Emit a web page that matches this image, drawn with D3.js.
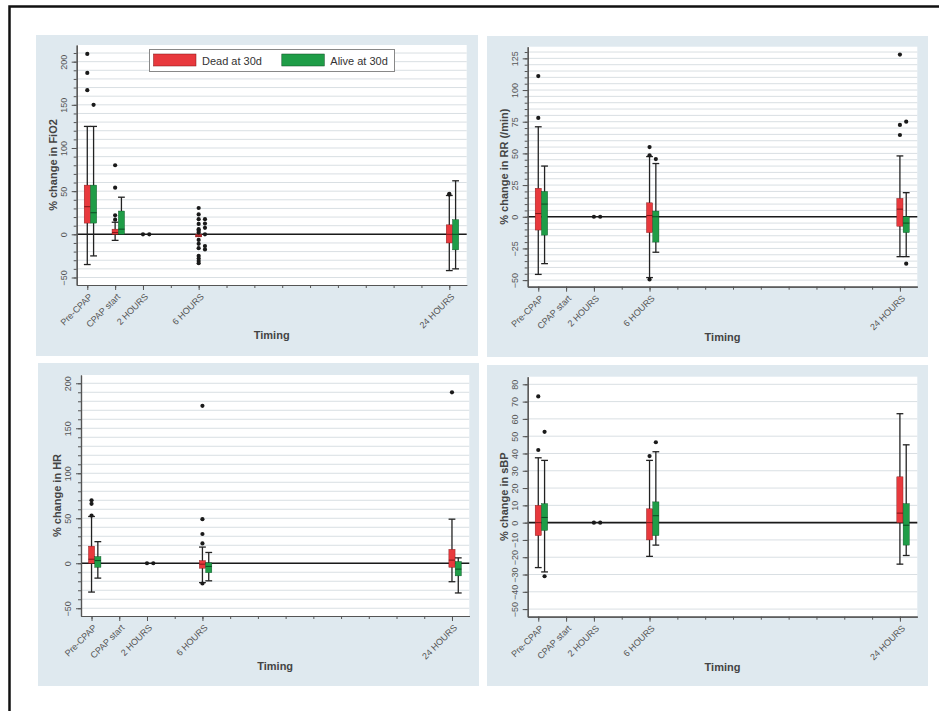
<!DOCTYPE html>
<html><head><meta charset="utf-8">
<script src="https://cdn.jsdelivr.net/npm/d3@7"></script>
<style>body{margin:0;background:#fff;} svg{display:block;font-family:"Liberation Sans",Arial,sans-serif;}</style>
</head><body><svg id="c" width="939" height="711"></svg>
<script>
// ---------- data ----------
const times = [-2, 0, 2, 6, 24];
const timeLabels = ["Pre-CPAP", "CPAP start", "2 HOURS", "6 HOURS", "24 HOURS"];
const minorTimes = [-2, 0, 2, 4, 6, 8, 10, 12, 14, 16, 18, 20, 22, 24];
const groupNames = ["Dead at 30d", "Alive at 30d"];
const groupColors = ["#e8393d", "#1f9d47"];
const medianColors = ["#7d1717", "#0c4a22"];

// stats = [lower whisker, q1, median, q3, upper whisker]; out = outliers
const fio2Dead = [
  {t: -2, stats: [-35, 13, 32, 57, 125], out: [209, 187, 167]},
  {t: 0, stats: [-7, 0, 2, 6, 14], out: [17, 22, 54, 80]},
  {t: 2, stats: null, out: [0]},
  {t: 6, stats: [-3, -3, -2, 0, 0], out: [30.5, 23, 17.5, 12, 6, 4, 2, -6.5, -11, -16, -25, -28, -31, -33.5]},
  {t: 24, stats: [-42, -10, 0, 11, 45], out: [47, 46]}
];
const fio2Alive = [
  {t: -2, stats: [-25, 13, 25, 57, 125], out: [150]},
  {t: 0, stats: [0, 0, 6, 27, 43], out: []},
  {t: 2, stats: null, out: [0]},
  {t: 6, stats: null, out: [17.5, 12.5, 7.5, 0, -13.5, -17.5]},
  {t: 24, stats: [-40, -18, 0, 17, 62], out: []}
];
const rrDead = [
  {t: -2, stats: [-45.5, -10.5, 2.5, 22.5, 71], out: [111, 78]},
  {t: 2, stats: null, out: [0]},
  {t: 6, stats: [-48, -12.5, 1, 11, 47.5], out: [55, 48.5, -49.5]},
  {t: 24, stats: [-31.5, -7.5, 6, 14.5, 48], out: [128, 72.5, 64.5]}
];
const rrAlive = [
  {t: -2, stats: [-37, -14.5, 10, 20, 40], out: []},
  {t: 2, stats: null, out: [0]},
  {t: 6, stats: [-28, -20, 0, 4.5, 42], out: [45.5]},
  {t: 24, stats: [-31.5, -12.5, -5, 0, 19], out: [75, -37]}
];
const hrDead = [
  {t: -2, stats: [-32, 0, 4.5, 19, 52], out: [70, 66, 53]},
  {t: 2, stats: null, out: [0]},
  {t: 6, stats: [-21.5, -5.5, -1, 3, 18], out: [175, 49, 32.5, 22, -22.5]},
  {t: 24, stats: [-20.5, -4.5, 3.5, 15.5, 49], out: [190]}
];
const hrAlive = [
  {t: -2, stats: [-16.5, -4.5, 3, 7.5, 24], out: []},
  {t: 2, stats: null, out: [0]},
  {t: 6, stats: [-19.5, -10.5, -3.5, 0.5, 12], out: []},
  {t: 24, stats: [-33, -14, -6.5, 2, 6], out: []}
];
const sbpDead = [
  {t: -2, stats: [-26, -7.5, 0, 10, 37.5], out: [73, 42]},
  {t: 2, stats: null, out: [0]},
  {t: 6, stats: [-19.5, -10, 0, 8, 36], out: [38.5]},
  {t: 24, stats: [-24, 0, 5.5, 26.5, 63], out: []}
];
const sbpAlive = [
  {t: -2, stats: [-28.5, -4.5, 3, 11, 36], out: [52.5, -31]},
  {t: 2, stats: null, out: [0]},
  {t: 6, stats: [-13, -7.5, 4, 12, 41], out: [46.5]},
  {t: 24, stats: [-19, -13, -1.5, 11, 45], out: []}
];

const yTitles = ["% change in FiO2", "% change in RR (/min)", "% change in HR", "% change in sBP"];
const yMajorTicks = [
  [-50, 0, 50, 100, 150, 200],
  [-50, -25, 0, 25, 50, 75, 100, 125],
  [-50, 0, 50, 100, 150, 200],
  [-50, -40, -30, -20, -10, 0, 10, 20, 30, 40, 50, 60, 70, 80]
];
const yMinorSteps = [10, 5, 10, 10];

// ---------- layout ----------
const panels = [
  {bg: [36, 35, 478, 356], plot: [76.7, 45, 466.7, 285], yDomain: [-58.7, 219.3], series: [fio2Dead, fio2Alive], legend: true},
  {bg: [487, 36, 928, 357], plot: [527.7, 46.7, 917.3, 286.7], yDomain: [-55.2, 134.2], series: [rrDead, rrAlive]},
  {bg: [38, 363, 479, 686], plot: [81, 375, 469.3, 616], yDomain: [-58.6, 209.2], series: [hrDead, hrAlive]},
  {bg: [487, 365, 928, 686], plot: [527.7, 376.7, 917.3, 616.7], yDomain: [-54.4, 84.4], series: [sbpDead, sbpAlive]}
];
const xDomain = [-2.76, 25.25];
const groupOffset = 6.3, boxHalf = 3.1, capHalf = 3.4;

const svg = d3.select("#c");
// outer frame
svg.append("rect").attr("x", 9.5).attr("y", 6.5).attr("width", 1000).attr("height", 1000)
  .attr("fill", "none").attr("stroke", "#111").attr("stroke-width", 2.5);

panels.forEach((p, pi) => {
  const [bx0, by0, bx1, by1] = p.bg;
  const [px0, py0, px1, py1] = p.plot;
  const g = svg.append("g");
  g.append("rect").attr("x", bx0).attr("y", by0).attr("width", bx1 - bx0).attr("height", by1 - by0).attr("fill", "#dfe9ef");
  g.append("rect").attr("x", px0).attr("y", py0).attr("width", px1 - px0).attr("height", py1 - py0).attr("fill", "#ffffff");

  const x = d3.scaleLinear().domain(xDomain).range([px0, px1]);
  const y = d3.scaleLinear().domain(p.yDomain).range([py1, py0]);

  const step = yMinorSteps[pi];
  const minor = d3.range(-50, p.yDomain[1], step);

  // gridlines
  g.append("g").selectAll("line").data(minor).join("line")
    .attr("x1", px0).attr("x2", px1).attr("y1", d => y(d)).attr("y2", d => y(d))
    .attr("stroke", "#d9dfe3").attr("stroke-width", 1);

  // zero line
  g.append("line").attr("x1", px0).attr("x2", px1).attr("y1", y(0)).attr("y2", y(0))
    .attr("stroke", "#1a1a1a").attr("stroke-width", 1.6);

  // y axis
  const yAxisMinor = d3.axisLeft(y).tickValues(minor).tickSize(3).tickSizeOuter(0).tickFormat("");
  const yAxis = d3.axisLeft(y).tickValues(yMajorTicks[pi]).tickSize(5).tickSizeOuter(0);
  const gyMin = g.append("g").attr("transform", `translate(${px0},0)`).call(yAxisMinor);
  const gy = g.append("g").attr("transform", `translate(${px0},0)`).call(yAxis);
  [gyMin, gy].forEach(a => {
    a.select(".domain").attr("stroke", "#555").attr("stroke-width", 1.2);
    a.selectAll(".tick line").attr("stroke", "#555");
  });
  gy.selectAll(".tick text").attr("x", null).attr("dy", null)
    .attr("transform", "translate(-10,0) rotate(-90)")
    .attr("text-anchor", "middle").attr("font-size", 9).attr("fill", "#555");

  // x axis
  const xAxisMinor = d3.axisBottom(x).tickValues(minorTimes).tickSize(3).tickSizeOuter(0).tickFormat("");
  const xAxis = d3.axisBottom(x).tickValues(times).tickSize(5).tickSizeOuter(0)
    .tickFormat((d, i) => timeLabels[i]);
  const gxMin = g.append("g").attr("transform", `translate(0,${py1})`).call(xAxisMinor);
  const gx = g.append("g").attr("transform", `translate(0,${py1})`).call(xAxis);
  [gxMin, gx].forEach(a => {
    a.select(".domain").attr("stroke", "#555").attr("stroke-width", 1.2);
    a.selectAll(".tick line").attr("stroke", "#555");
  });
  gx.selectAll(".tick text").attr("y", null).attr("dy", "0.35em")
    .attr("transform", "translate(3,10) rotate(-45)")
    .attr("text-anchor", "end").attr("font-size", 9).attr("fill", "#555");

  // titles
  g.append("text").attr("transform", `translate(${px0 - 20},${(py0 + py1) / 2}) rotate(-90)`)
    .attr("text-anchor", "middle").attr("font-size", 11).attr("font-weight", "bold").attr("fill", "#444")
    .text(yTitles[pi]);
  g.append("text").attr("x", (px0 + px1) / 2).attr("y", py1 + 54)
    .attr("text-anchor", "middle").attr("font-size", 11).attr("font-weight", "bold").attr("fill", "#444")
    .text("Timing");

  // boxes
  p.series.forEach((ser, gi) => {
    const sg = g.append("g");
    const cx = d => x(d.t) + gi * groupOffset;
    const withBox = ser.filter(d => d.stats);
    sg.selectAll("line.wh").data(withBox).join("line").attr("class", "wh")
      .attr("x1", cx).attr("x2", cx).attr("y1", d => y(d.stats[0])).attr("y2", d => y(d.stats[4]))
      .attr("stroke", "#222").attr("stroke-width", 1.3);
    sg.selectAll("line.capL").data(withBox.filter(d => d.stats[0] < d.stats[1])).join("line").attr("class", "capL")
      .attr("x1", d => cx(d) - capHalf).attr("x2", d => cx(d) + capHalf)
      .attr("y1", d => y(d.stats[0])).attr("y2", d => y(d.stats[0]))
      .attr("stroke", "#222").attr("stroke-width", 1.3);
    sg.selectAll("line.capH").data(withBox.filter(d => d.stats[4] > d.stats[3])).join("line").attr("class", "capH")
      .attr("x1", d => cx(d) - capHalf).attr("x2", d => cx(d) + capHalf)
      .attr("y1", d => y(d.stats[4])).attr("y2", d => y(d.stats[4]))
      .attr("stroke", "#222").attr("stroke-width", 1.3);
    sg.selectAll("rect.box").data(withBox).join("rect").attr("class", "box")
      .attr("x", d => cx(d) - boxHalf).attr("width", boxHalf * 2)
      .attr("y", d => y(d.stats[3])).attr("height", d => Math.max(2, y(d.stats[1]) - y(d.stats[3])))
      .attr("fill", groupColors[gi]).attr("stroke", medianColors[gi]).attr("stroke-width", 0.4);
    sg.selectAll("line.med").data(withBox).join("line").attr("class", "med")
      .attr("x1", d => cx(d) - boxHalf).attr("x2", d => cx(d) + boxHalf)
      .attr("y1", d => y(d.stats[2])).attr("y2", d => y(d.stats[2]))
      .attr("stroke", medianColors[gi]).attr("stroke-width", 1);
    const outs = ser.flatMap(d => d.out.map(v => ({t: d.t, v})));
    sg.selectAll("circle").data(outs).join("circle")
      .attr("cx", cx).attr("cy", d => y(d.v)).attr("r", 2.1).attr("fill", "#1a1a1a");
  });

  if (p.legend) {
    const lg = g.append("g");
    lg.append("rect").attr("x", 149.5).attr("y", 49.5).attr("width", 245).attr("height", 22)
      .attr("fill", "#fff").attr("stroke", "#888").attr("stroke-width", 1);
    groupNames.forEach((nm, i) => {
      const ox = 153.5 + i * 128.3;
      lg.append("rect").attr("x", ox).attr("y", 54).attr("width", 42.5).attr("height", 12)
        .attr("fill", groupColors[i]).attr("stroke", medianColors[i]).attr("stroke-width", 0.5);
      lg.append("text").attr("x", ox + 48.5).attr("y", 64.5).attr("font-size", 11).attr("fill", "#333").text(nm);
    });
  }
});
</script></body></html>
